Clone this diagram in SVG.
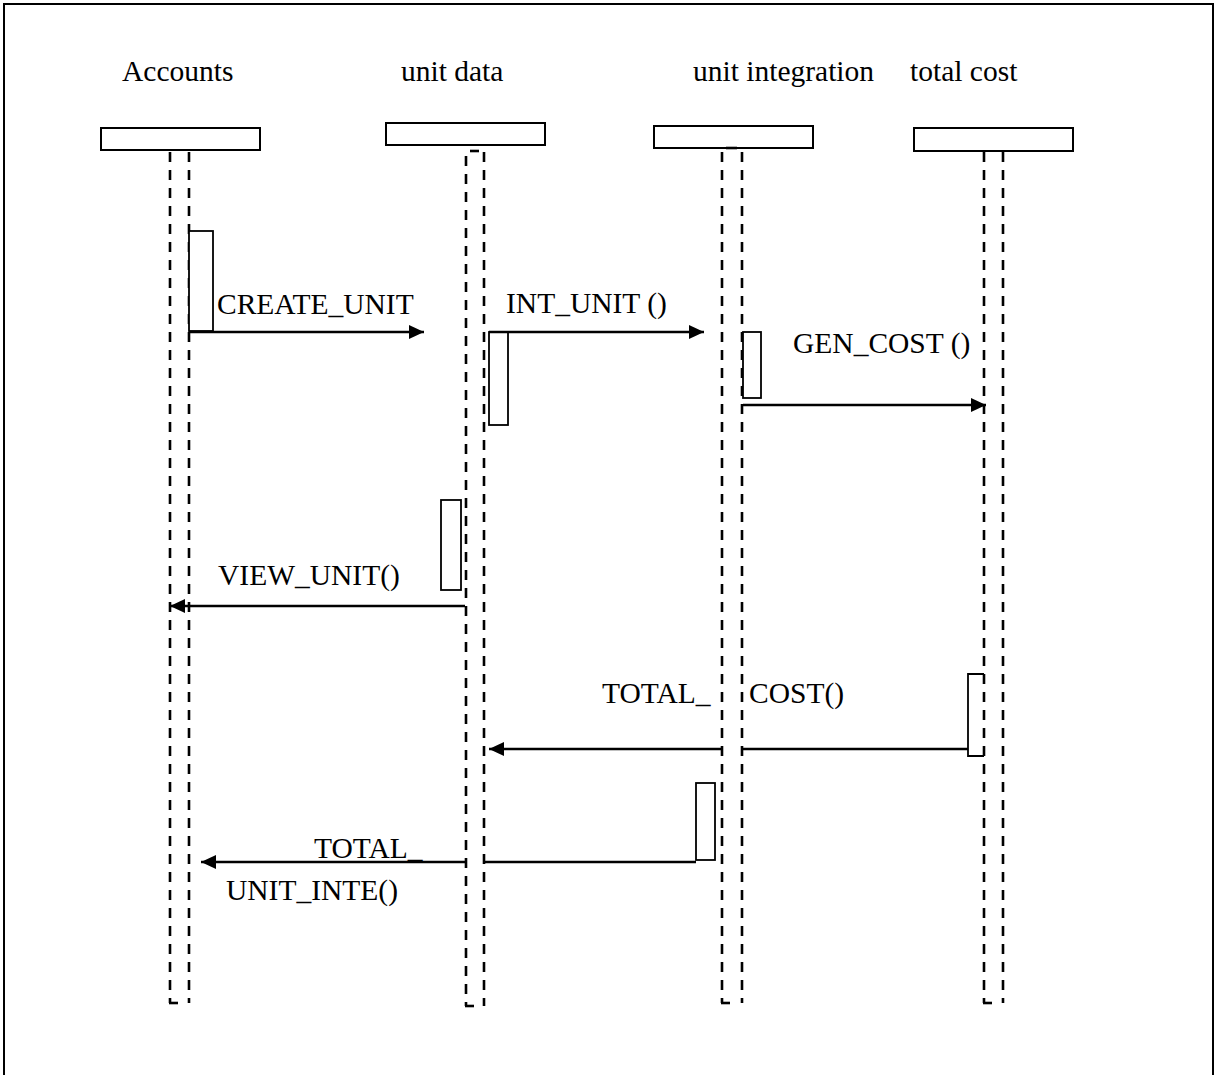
<svg xmlns="http://www.w3.org/2000/svg" width="1215" height="1075" viewBox="0 0 1215 1075">
<style>
.lbl{font-family:"Liberation Serif","Times New Roman",serif;font-size:29.5px;fill:#000}
.hdr{fill:#fff;stroke:#000;stroke-width:2}
.life{stroke:#000;stroke-width:2.6;stroke-dasharray:10 8;fill:none}
.act{fill:#fff;stroke:#000;stroke-width:1.8}
.msg{stroke:#000;stroke-width:2.6;fill:none}
.tick{stroke:#000;stroke-width:2.6}
</style>
<defs>
<marker id="ah" markerUnits="userSpaceOnUse" markerWidth="15" markerHeight="14" refX="15" refY="7" orient="auto">
<path d="M0,0 L15,7 L0,14 z" fill="#000"/>
</marker>
</defs>
<rect x="0" y="0" width="1215" height="1075" fill="#fff"/>
<rect x="4" y="4" width="1209" height="1080" fill="none" stroke="#000" stroke-width="2"/>

<g id="accounts">
<text class="lbl" x="122" y="81">Accounts</text>
<rect class="hdr" x="101" y="128" width="159" height="22"/>
<line class="life" x1="170" y1="152" x2="170" y2="1003"/>
<line class="life" x1="189" y1="152" x2="189" y2="1003"/>
<line class="tick" x1="169" y1="1003" x2="178" y2="1003"/>
<rect class="act" x="189" y="231" width="24" height="100"/>
</g>

<g id="unit-data">
<text class="lbl" x="401" y="81">unit data</text>
<rect class="hdr" x="386" y="123" width="159" height="22"/>
<line class="tick" x1="470" y1="151" x2="479" y2="151"/>
<line class="life" x1="466" y1="156" x2="466" y2="1006"/>
<line class="life" x1="484" y1="152" x2="484" y2="1006"/>
<line class="tick" x1="465" y1="1006" x2="474" y2="1006"/>
<rect class="act" x="489" y="332" width="19" height="93"/>
<rect class="act" x="441" y="500" width="20" height="90"/>
</g>

<g id="unit-integration">
<text class="lbl" x="693" y="81">unit integration</text>
<rect class="hdr" x="654" y="126" width="159" height="22"/>
<line class="tick" x1="726" y1="148" x2="737" y2="148"/>
<line class="life" x1="722" y1="152" x2="722" y2="1003"/>
<line class="life" x1="742" y1="152" x2="742" y2="1003"/>
<line class="tick" x1="721" y1="1003" x2="730" y2="1003"/>
<rect class="act" x="743" y="332" width="18" height="66"/>
<rect class="act" x="696" y="783" width="19" height="77"/>
</g>

<g id="total-cost">
<text class="lbl" x="910" y="81">total cost</text>
<rect class="hdr" x="914" y="128" width="159" height="23"/>
<line class="life" x1="984" y1="152" x2="984" y2="1003"/>
<line class="life" x1="1003" y1="152" x2="1003" y2="1003"/>
<line class="tick" x1="983" y1="1003" x2="992" y2="1003"/>
<path d="M984,674 H968 V756 H984" fill="none" stroke="#000" stroke-width="1.8"/>
</g>

<g id="connectors">
<line class="msg" x1="189" y1="332" x2="424" y2="332" marker-end="url(#ah)"/>
<text class="lbl" x="217" y="314">CREATE_UNIT</text>
<line class="msg" x1="489" y1="332" x2="704" y2="332" marker-end="url(#ah)"/>
<text class="lbl" x="506" y="313">INT_UNIT ()</text>
<line class="msg" x1="743" y1="405" x2="986" y2="405" marker-end="url(#ah)"/>
<text class="lbl" x="793" y="353">GEN_COST ()</text>
<line class="msg" x1="465" y1="606" x2="170" y2="606" marker-end="url(#ah)"/>
<text class="lbl" x="218" y="585">VIEW_UNIT()</text>
<line class="msg" x1="968" y1="749" x2="742" y2="749"/>
<line class="msg" x1="722" y1="749" x2="489" y2="749" marker-end="url(#ah)"/>
<text class="lbl" x="602" y="703">TOTAL_</text>
<text class="lbl" x="749" y="703">COST()</text>
<line class="msg" x1="696" y1="862" x2="484" y2="862"/>
<line class="msg" x1="466" y1="862" x2="201" y2="862" marker-end="url(#ah)"/>
<text class="lbl" x="314" y="858">TOTAL_</text>
<text class="lbl" x="226" y="900">UNIT_INTE()</text>
</g>
</svg>
